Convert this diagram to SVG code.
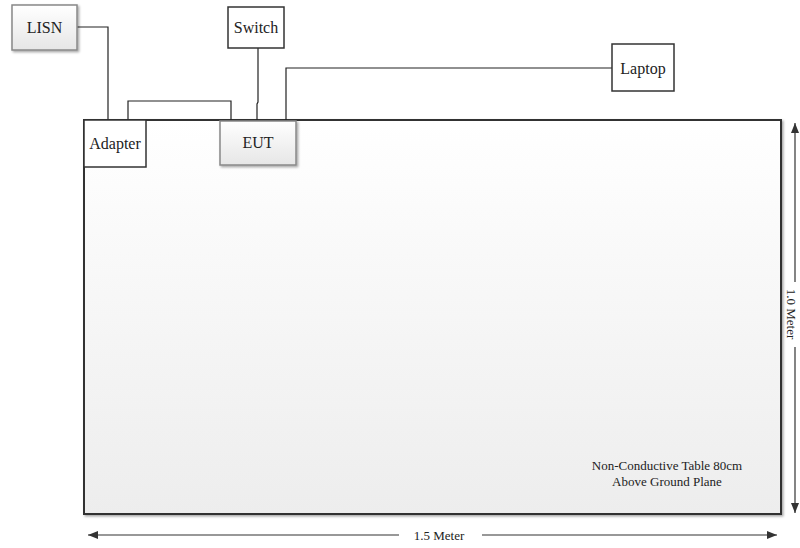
<svg xmlns="http://www.w3.org/2000/svg" width="800" height="548" viewBox="0 0 800 548">
<defs>
<linearGradient id="gTable" x1="0" y1="0" x2="0" y2="1"><stop offset="0" stop-color="#ffffff"/><stop offset="1" stop-color="#ededed"/></linearGradient>
<linearGradient id="gBox" x1="0" y1="0" x2="0" y2="1"><stop offset="0" stop-color="#ffffff"/><stop offset="1" stop-color="#e6e6e6"/></linearGradient>
<marker id="ah" viewBox="0 0 10 8" refX="10" refY="4" markerWidth="10" markerHeight="8" markerUnits="userSpaceOnUse" orient="auto"><path d="M0,0 L10,4 L0,8 Z" fill="#333"/></marker>
<filter id="sh" x="-5%" y="-5%" width="115%" height="115%"><feDropShadow dx="1.5" dy="1.5" stdDeviation="1" flood-color="#000" flood-opacity="0.35"/></filter>
</defs>
<style>
text{font-family:"Liberation Serif","Times New Roman",serif;fill:#222}
.lbl{font-size:16px;text-anchor:middle}
.sm{font-size:13px;text-anchor:middle}
.wire{fill:none;stroke:#222;stroke-width:1.2}
.dim{fill:none;stroke:#333;stroke-width:1.2}
.gbox{fill:url(#gBox);stroke:#888;stroke-width:1.5}
.wbox{fill:#fff;stroke:#333;stroke-width:1.5}
</style>
<g id="table">
<rect x="84" y="120" width="697" height="394" fill="url(#gTable)" stroke="#333" stroke-width="2" filter="url(#sh)"/>
<text class="sm" x="667" y="470">Non-Conductive Table 80cm</text>
<text class="sm" x="667" y="486">Above Ground Plane</text>
</g>
<g id="connectors">
<polyline class="wire" points="77,27 108,27 108,120"/>
<polyline class="wire" points="128,120 128,101 231,101 231,120"/>
<polyline class="wire" points="258,48 258,102 257,104 257,120"/>
<polyline class="wire" points="286,120 286,68 612,68"/>
</g>
<g id="lisn"><rect class="gbox" x="12" y="5" width="65" height="45" filter="url(#sh)"/><text class="lbl" x="44.5" y="33">LISN</text></g>
<g id="switch"><rect class="wbox" x="228" y="7" width="56" height="41"/><text class="lbl" x="256" y="33">Switch</text></g>
<g id="laptop"><rect class="wbox" x="612" y="44" width="62" height="47" stroke="#777"/><text class="lbl" x="643" y="74">Laptop</text></g>
<g id="adapter"><rect class="wbox" x="84" y="120" width="62" height="47"/><text class="lbl" x="115" y="149">Adapter</text></g>
<g id="eut"><rect class="gbox" x="220" y="121" width="76" height="44" filter="url(#sh)"/><text class="lbl" x="258" y="148">EUT</text></g>
<g id="dimensions">
<line class="dim" x1="399" y1="535" x2="88" y2="535" marker-end="url(#ah)"/>
<line class="dim" x1="482" y1="535" x2="777" y2="535" marker-end="url(#ah)"/>
<text class="sm" x="439" y="539.5">1.5 Meter</text>
<line class="dim" x1="795" y1="282" x2="795" y2="123" marker-end="url(#ah)"/>
<line class="dim" x1="795" y1="347" x2="795" y2="513" marker-end="url(#ah)"/>
<text class="sm" transform="translate(786.5,314) rotate(90)">1.0 Meter</text>
</g>
</svg>
